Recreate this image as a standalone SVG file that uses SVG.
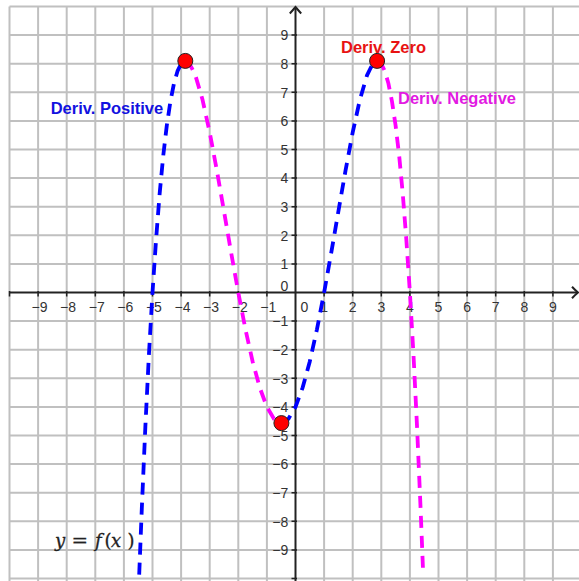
<svg xmlns="http://www.w3.org/2000/svg" width="579" height="581" viewBox="0 0 579 581">
<style>
.grid{stroke:#c0c0c0;stroke-width:2;fill:none}
.axis{stroke:#222;stroke-width:2;fill:none}
.tick{stroke:#222;stroke-width:1.5;fill:none}
.num{font-family:"Liberation Sans",Arial,sans-serif;font-size:14px;fill:#333}
.nx{text-anchor:middle}
.ny{text-anchor:end}
.crv{fill:none;stroke-width:3.8;stroke-dasharray:12 8;stroke-linejoin:round}
.blue{stroke:#0000ff}
.mag{stroke:#ff00ff}
.pt{fill:#ff0000;stroke:#222;stroke-width:1}
.lbl{font-family:"Liberation Sans",Arial,sans-serif;font-size:16.5px;font-weight:bold}
.math{font-family:"DejaVu Serif","Liberation Serif",serif;font-size:18px;fill:#222;stroke:#222;stroke-width:0.3}
</style>
<rect width="579" height="581" fill="#ffffff"/>
<g id="grid" class="grid">
<path d="M9.5 6.5V581M38.1 6.5V581M66.7 6.5V581M95.3 6.5V581M123.9 6.5V581M152.5 6.5V581M181.1 6.5V581M209.7 6.5V581M238.3 6.5V581M266.9 6.5V581M324.1 6.5V581M352.7 6.5V581M381.3 6.5V581M409.9 6.5V581M438.5 6.5V581M467.1 6.5V581M495.7 6.5V581M524.3 6.5V581M552.9 6.5V581"/>
<path d="M9.5 6.5H579M9.5 35.1H579M9.5 63.7H579M9.5 92.3H579M9.5 120.9H579M9.5 149.5H579M9.5 178.1H579M9.5 206.7H579M9.5 235.3H579M9.5 263.9H579M9.5 321.1H579M9.5 349.7H579M9.5 378.3H579M9.5 406.9H579M9.5 435.5H579M9.5 464.1H579M9.5 492.7H579M9.5 521.3H579M9.5 549.9H579M9.5 578.5H579"/>
</g>
<g id="axes">
<path class="axis" d="M9.5 292.5H578M295.5 581V7"/>
<path class="axis" d="M572 286.8Q575 290 578 292.5Q575 295 572 298.2M289.8 13.5Q293 10 295.5 7Q298 10 301.2 13.5"/>
<path class="tick" d="M9.5 291V296.5M38.1 291V296.5M66.7 291V296.5M95.3 291V296.5M123.9 291V296.5M152.5 291V296.5M181.1 291V296.5M209.7 291V296.5M238.3 291V296.5M266.9 291V296.5M324.1 291V296.5M352.7 291V296.5M381.3 291V296.5M409.9 291V296.5M438.5 291V296.5M467.1 291V296.5M495.7 291V296.5M524.3 291V296.5M552.9 291V296.5"/>
<path class="tick" d="M291.5 35.1H297M291.5 63.7H297M291.5 92.3H297M291.5 120.9H297M291.5 149.5H297M291.5 178.1H297M291.5 206.7H297M291.5 235.3H297M291.5 263.9H297M291.5 321.1H297M291.5 349.7H297M291.5 378.3H297M291.5 406.9H297M291.5 435.5H297M291.5 464.1H297M291.5 492.7H297M291.5 521.3H297M291.5 549.9H297M291.5 578.5H297"/>
</g>
<g id="x-labels" class="num nx">
<text x="39.5" y="311.7">−9</text>
<text x="68.1" y="311.7">−8</text>
<text x="96.7" y="311.7">−7</text>
<text x="125.3" y="311.7">−6</text>
<text x="153.9" y="311.7">−5</text>
<text x="182.5" y="311.7">−4</text>
<text x="211.1" y="311.7">−3</text>
<text x="239.7" y="311.7">−2</text>
<text x="268.3" y="311.7">−1</text>
<text x="304.5" y="311.7">0</text>
<text x="324.1" y="311.7">1</text>
<text x="352.7" y="311.7">2</text>
<text x="381.3" y="311.7">3</text>
<text x="409.9" y="311.7">4</text>
<text x="438.5" y="311.7">5</text>
<text x="467.1" y="311.7">6</text>
<text x="495.7" y="311.7">7</text>
<text x="524.3" y="311.7">8</text>
<text x="552.9" y="311.7">9</text>
</g>
<g id="y-labels" class="num ny">
<text x="288.3" y="40.3">9</text>
<text x="288.3" y="68.9">8</text>
<text x="288.3" y="97.5">7</text>
<text x="288.3" y="126.1">6</text>
<text x="288.3" y="154.7">5</text>
<text x="288.3" y="183.3">4</text>
<text x="288.3" y="211.9">3</text>
<text x="288.3" y="240.5">2</text>
<text x="288.3" y="269.1">1</text>
<text x="288.3" y="290.7">0</text>
<text x="288.3" y="326.3">−1</text>
<text x="288.3" y="354.9">−2</text>
<text x="288.3" y="383.5">−3</text>
<text x="288.3" y="412.1">−4</text>
<text x="288.3" y="440.7">−5</text>
<text x="288.3" y="469.3">−6</text>
<text x="288.3" y="497.9">−7</text>
<text x="288.3" y="526.5">−8</text>
<text x="288.3" y="555.1">−9</text>
</g>
<g id="connectors">
<polyline id="seg-pos-1" class="crv blue" points="139.2,574.6 141.8,508.9 145.35,426.9 148.9,355.0 152.5,292.6 156.1,239.0 159.65,193.7 163.2,156.0 166.8,125.5 170.4,101.5 173.95,83.6 177.5,71.2 181.1,63.8 185.3,60.9"/>
<polyline id="seg-neg-1" class="crv mag" points="185.3,60.9 188.25,62.3 191.8,68 195.4,75.4 202.55,99.8 209.7,132.4 216.85,170.4 224.0,211.3 231.15,252.7 238.3,292.6 245.45,329.3 252.6,361.4 259.75,387.6 266.9,407.0 274.05,418.9 281.2,422.9"/>
<polyline id="seg-pos-2" class="crv blue" points="281.2,422.9 288.35,418.9 295.5,407.0 302.65,387.6 309.8,361.4 316.95,329.3 324.1,292.6 331.25,252.7 338.4,211.3 345.55,170.4 352.7,132.4 359.85,99.8 367.0,75.4 370.6,68 374.15,62.3 377.1,60.9"/>
<polyline id="seg-neg-2" class="crv mag" points="377.1,60.9 381.3,63.8 384.9,71.2 388.45,83.6 392.0,101.5 395.6,125.5 399.2,156.0 402.75,193.7 406.3,239.0 409.9,292.6 413.5,355.0 417.05,426.9 420.6,508.9 423.2,574.6"/>
</g>
<g id="point-max-left"><circle class="pt" cx="185.3" cy="60.9" r="7.5"/></g>
<g id="point-max-right"><circle class="pt" cx="377.1" cy="60.9" r="7.5"/></g>
<g id="point-min"><circle class="pt" cx="281.4" cy="423.1" r="7.5"/></g>
<g id="label-positive"><text class="lbl" x="50.7" y="114" fill="#1212e0">Deriv. Positive</text></g>
<g id="label-zero"><text class="lbl" x="341" y="52.5" fill="#e81212">Deriv. Zero</text></g>
<g id="label-negative"><text class="lbl" x="398" y="104.3" fill="#e21ae2">Deriv. Negative</text></g>
<g id="label-function" class="math">
<text x="55" y="547" font-style="italic">y</text>
<text x="71.5" y="547" transform="translate(71.5 0) scale(1.1 1) translate(-71.5 0)">=</text>
<text x="95" y="547" font-style="italic">f</text>
<text x="104.5" y="547">(</text>
<text x="111" y="547" font-style="italic">x</text>
<text x="127.5" y="547">)</text>
</g>
</svg>
